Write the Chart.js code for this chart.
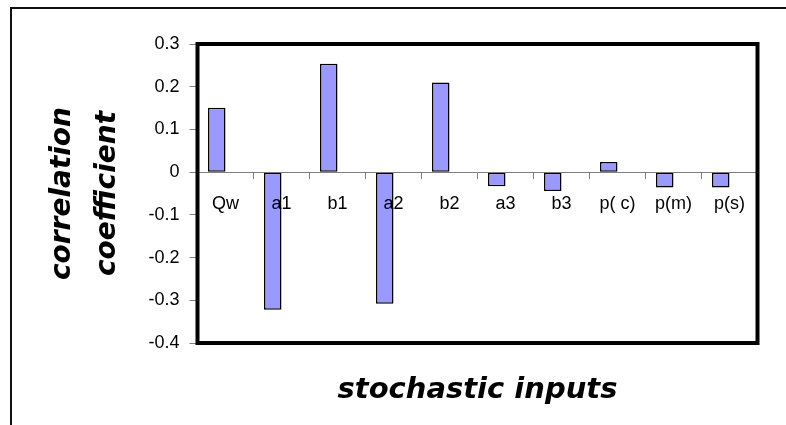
<!DOCTYPE html>
<html>
<head>
<meta charset="utf-8">
<script src="https://cdn.jsdelivr.net/npm/chart.js@4.4.1/dist/chart.umd.min.js"></script>
<style>
  html, body { margin: 0; padding: 0; background: #fff; overflow: hidden; }
  #wrap { position: relative; width: 786px; height: 425px; }
  #frame { position: absolute; left: 10px; top: 7px; width: 800px; height: 440px;
           border-left: 2px solid #111; border-top: 2px solid #111; }
  #box { position: absolute; left: 0; top: 0; width: 786px; height: 425px; }
</style>
</head>
<body>
<div id="wrap">
  <div id="frame"></div>
  <div id="box"><canvas id="corrChart"></canvas></div>
</div>
<script>
// ── Data ──
const inputs   = ['Qw', 'a1', 'b1', 'a2', 'b2', 'a3', 'b3', 'p( c)', 'p(m)', 'p(s)'];
const corr     = [0.151, -0.322, 0.254, -0.308, 0.210, -0.033, -0.044, 0.024, -0.036, -0.036];
const blank    = [null, null, null, null, null, null, null, null, null, null]; // empty 2nd series (Excel spacing)
const yTicks   = [0.3, 0.2, 0.1, 0, -0.1, -0.2, -0.3, -0.4];

const BAR   = '#9999ff';
const GREY  = '#808080';
const TICKFONT  = { family: "'Liberation Sans', Arial, sans-serif", size: 18 };
const TITLEFONT = { family: "'DejaVu Sans', sans-serif", size: 29, weight: 'bold', style: 'italic' };

// ── Thick box round the plot area ──
const plotFrame = {
  id: 'plotFrame',
  afterDraw(chart) {
    const { ctx, chartArea: a } = chart;
    ctx.save();
    ctx.strokeStyle = '#000';
    ctx.lineWidth = 4;
    ctx.strokeRect(a.left, a.top, a.right - a.left, a.bottom - a.top);
    ctx.restore();
  }
};

new Chart(document.getElementById('corrChart'), {
  type: 'bar',
  data: {
    labels: inputs,
    datasets: [
      { data: corr, backgroundColor: BAR, borderColor: '#000', borderWidth: 1.5, borderSkipped: false },
      { data: blank, backgroundColor: BAR }
    ]
  },
  options: {
    responsive: true,
    maintainAspectRatio: false,
    animation: false,
    categoryPercentage: 0.625,
    barPercentage: 1,
    layout: { padding: { left: 0, right: 28.5, top: 44, bottom: 0 } },
    plugins: {
      legend: { display: false },
      tooltip: { enabled: false }
    },
    scales: {
      x: {
        position: { y: 0 },
        offset: true,
        grid: { drawOnChartArea: false, offset: true, color: GREY, tickLength: 6 },
        border: { color: GREY, width: 1 },
        ticks: { z: 1, color: '#000', font: TICKFONT, padding: 15, autoSkip: false, maxRotation: 0 }
      },
      // bottom axis only carries the title, centred under the plot
      xTitle: {
        axis: 'x',
        type: 'category',
        position: 'bottom',
        afterFit(scale) { scale.height = 82; },
        grid: { display: false, drawTicks: false, tickLength: 0 },
        border: { display: false },
        ticks: { display: false },
        title: {
          display: true,
          text: 'stochastic inputs',
          color: '#000',
          font: { ...TITLEFONT, lineHeight: 1 },
          padding: { top: 0, bottom: 20.5 }
        }
      },
      y: {
        min: -0.4,
        max: 0.3,
        afterFit(scale) { scale.width = 197.5; },
        afterBuildTicks(scale) { scale.ticks = yTicks.map(v => ({ value: v })); },
        grid: { drawOnChartArea: false, color: GREY, tickLength: 8 },
        border: { display: false },
        ticks: {
          color: '#000', font: TICKFONT, padding: 10,
          callback: v => String(Math.round(v * 10) / 10)
        },
        title: {
          display: true,
          text: ['correlation', 'coefficient'],
          color: '#000',
          font: { ...TITLEFONT, size: 28, lineHeight: 45 / 28 },
          padding: { top: 40.5, bottom: 0 }
        }
      }
    }
  },
  plugins: [plotFrame]
});
</script>
</body>
</html>
